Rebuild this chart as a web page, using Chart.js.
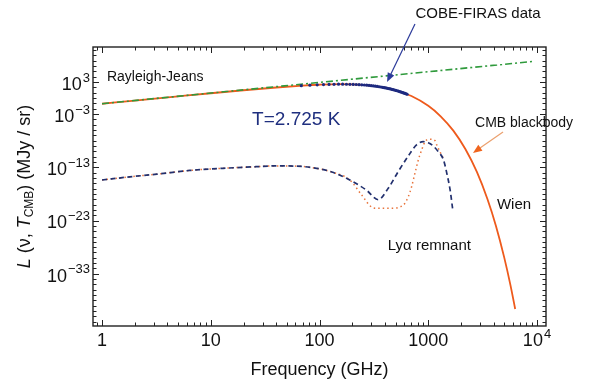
<!DOCTYPE html>
<html>
<head>
<meta charset="utf-8">
<script src="https://cdn.jsdelivr.net/npm/chart.js@4.4.1/dist/chart.umd.min.js"></script>
<style>
  html, body { margin: 0; padding: 0; background: #fff; }
</style>
</head>
<body>
<canvas id="chart" width="592" height="385"></canvas>
<script>
// frequency in GHz, intensity in MJy/sr
const bbFreq = [1, 2, 5, 10, 20, 40, 70, 100, 150, 200, 300, 400, 500, 700, 1000,
                1300, 1700, 2200, 2800, 3500, 4200, 5000, 5700, 6300];
const bbValue = [0.083, 0.33, 2.0, 7.7, 28, 92, 208, 306, 382, 359, 204, 83, 28, 2.3, 0.034,
                 3.7e-4, 7.4e-7, 2.4e-10, 1.3e-14, 1.1e-19, 8.7e-25, 1.1e-30, 7.6e-36, 2.5e-40];

const rjFreq = [1, 9500];
const rjValue = [0.084, 7.6e6];

const firasFreq = [68, 81.6, 95.2, 108.8, 122.4, 136, 149.6, 163.2, 176.8, 190.4, 204, 217.6,
                   231.2, 244.8, 258.4, 272, 285.6, 299.2, 312.8, 326.4, 340, 353.6, 367.2,
                   380.8, 394.4, 408, 421.6, 435.2, 448.8, 462.4, 476, 489.6, 503.2, 516.8,
                   530.4, 544, 557.6, 571.2, 584.8, 598.4, 612, 625.6, 639.2];
const firasValue = [201, 250, 293, 328, 354, 372, 382, 384, 379, 369, 355, 337,
                    317, 294, 272, 249, 226, 205, 184, 164, 146, 129, 114,
                    100, 87.4, 76.1, 66.1, 57.2, 49.4, 42.5, 36.5, 31.2, 26.7, 22.7,
                    19.4, 16.4, 13.9, 11.8, 9.96, 8.40, 7.07, 5.94, 4.99];

// Lyman-alpha remnant, dashed (navy) and dotted (orange)
const lyaFreq = [1, 1.8, 3.2, 6.4, 13, 26, 40, 62, 94, 130, 190, 270, 347, 430, 530,
                 680, 780, 900, 1000, 1110, 1240, 1380, 1480, 1590, 1680];
const lyaValue = [4e-16, 1.6e-15, 5e-15, 2.5e-14, 6.3e-14, 1.26e-13, 1.8e-13, 1.6e-13, 6.3e-14,
                  1.26e-14, 4e-16, 5e-18, 8e-20, 1.26e-17, 1.6e-14,
                  4e-11, 1.6e-9, 6.3e-9, 4e-9, 1e-9, 8e-11, 2.5e-12, 8e-15, 5e-18, 1e-21];
const lyaDotFreq = [1, 1.8, 3.2, 6.4, 13, 26, 40, 62, 94, 130, 190, 244, 302, 336, 445,
                    590, 656, 704, 755, 811, 870, 934, 1038, 1153, 1196, 1282, 1375];
const lyaDotValue = [4e-16, 1.6e-15, 5e-15, 2.5e-14, 6.3e-14, 1.26e-13, 1.8e-13, 1.6e-13, 6.3e-14,
                     1.26e-14, 4e-16, 6.3e-19, 3.2e-21, 2e-21, 2e-21,
                     8e-21, 3.2e-19, 2.5e-17, 8e-15, 2.5e-12, 1.8e-10, 6.3e-9, 1.8e-8, 1e-8, 1.6e-9, 8e-11, 5e-12];

const xTickValues = [1, 10, 100, 1000, 10000];
const xTickLabels = ['1', '10', '100', '1000', '10^4'];
const yTickValues = [1e3, 1e-3, 1e-13, 1e-23, 1e-33];
const yTickLabels = ['10^3', '10^\u22123', '10^\u221213', '10^\u221223', '10^\u221233'];
const minorSteps = [2, 3, 4, 5, 6, 7, 8, 9];

const FONT = '"Liberation Sans", Arial, sans-serif';
const NAVY = '#1d2a80';
const ORANGE = '#ee5a1c';

// text notes and arrows, anchored in data coordinates
const notes = [
  { text: 'Rayleigh-Jeans', x: 1.11, y: 8.7e3, size: 14, align: 'left', color: '#111' },
  { text: 'T=2.725 K', x: 24, y: 7.4e-5, size: 19, align: 'left', color: '#1f2f7f' },
  { text: 'COBE-FIRAS data', x: 2870, y: 5.8e15, size: 15, align: 'center', color: '#111' },
  { text: 'CMB blackbody', x: 7600, y: 2e-5, size: 14, align: 'center', color: '#111' },
  { text: 'Wien', x: 6150, y: 8.5e-21, size: 15, align: 'center', color: '#111' },
  { text: 'Ly\u03b1 remnant', x: 1024, y: 1.7e-28, size: 15, align: 'center', color: '#111' }
];
const arrows = [
  { from: [755, 7.8e13], to: [418, 1e3], line: '#2b3a9a', head: '#2b3a9a' },
  { from: [4870, 4.2e-7], to: [2580, 4.8e-11], line: '#eba06e', head: '#f0651e' }
];

const toXY = (xs, ys) => xs.map((x, i) => ({ x: x, y: ys[i] }));

function drawArrow(ctx, x0, y0, x1, y1, lineColor, headColor) {
  const ang = Math.atan2(y1 - y0, x1 - x0);
  const len = 9, half = 3.6;
  ctx.strokeStyle = lineColor;
  ctx.lineWidth = 1.2;
  ctx.beginPath();
  ctx.moveTo(x0, y0);
  ctx.lineTo(x1 - Math.cos(ang) * len * 0.8, y1 - Math.sin(ang) * len * 0.8);
  ctx.stroke();
  ctx.fillStyle = headColor;
  ctx.beginPath();
  ctx.moveTo(x1, y1);
  ctx.lineTo(x1 - Math.cos(ang) * len - Math.sin(ang) * half, y1 - Math.sin(ang) * len + Math.cos(ang) * half);
  ctx.lineTo(x1 - Math.cos(ang) * len + Math.sin(ang) * half, y1 - Math.sin(ang) * len - Math.cos(ang) * half);
  ctx.closePath();
  ctx.fill();
}

// "10^-13" style label: base at 18px, exponent at 13px raised
function drawPowerLabel(ctx, label, px, py, align) {
  const [base, exp] = label.split('^');
  ctx.font = '18px ' + FONT;
  const wb = ctx.measureText(base).width;
  ctx.font = '13px ' + FONT;
  const we = exp ? ctx.measureText(exp).width + 1 : 0;
  const w = wb + we;
  let x0 = align === 'right' ? px - w : px - w / 2;
  ctx.textAlign = 'left';
  ctx.textBaseline = 'middle';
  ctx.font = '18px ' + FONT;
  ctx.fillText(base, x0, py);
  if (exp) {
    ctx.font = '13px ' + FONT;
    ctx.fillText(exp, x0 + wb + 1, py - 7);
  }
}

const decor = {
  id: 'decor',
  afterDraw(chart) {
    const { ctx, chartArea: a, scales: { x, y } } = chart;
    ctx.save();

    // frame with inward ticks on all four sides
    ctx.strokeStyle = '#222';
    ctx.lineWidth = 1.4;
    ctx.strokeRect(a.left, a.top, a.right - a.left, a.bottom - a.top);
    ctx.lineWidth = 1;
    ctx.beginPath();
    for (let d = -1; d <= 4; d++) {
      for (const m of [1].concat(minorSteps)) {
        const v = m * Math.pow(10, d);
        if (v < x.min || v > x.max) continue;
        const px = Math.round(x.getPixelForValue(v)) + 0.5;
        const tl = m === 1 ? 6 : 3.5;
        ctx.moveTo(px, a.bottom); ctx.lineTo(px, a.bottom - tl);
        ctx.moveTo(px, a.top); ctx.lineTo(px, a.top + tl);
      }
    }
    for (let d = -43; d <= 9; d++) {
      const v = Math.pow(10, d);
      if (v < y.min || v > y.max) continue;
      const py = Math.round(y.getPixelForValue(v)) + 0.5;
      const tl = yTickValues.includes(v) ? 6 : 3.5;
      ctx.moveTo(a.left, py); ctx.lineTo(a.left + tl, py);
      ctx.moveTo(a.right, py); ctx.lineTo(a.right - tl, py);
    }
    ctx.stroke();

    // tick labels
    ctx.fillStyle = '#111';
    xTickValues.forEach((v, i) => drawPowerLabel(ctx, xTickLabels[i], x.getPixelForValue(v), a.bottom + 15, 'center'));
    yTickValues.forEach((v, i) => drawPowerLabel(ctx, yTickLabels[i], a.left - 3, y.getPixelForValue(v) + 3, 'right'));

    // annotations
    ctx.textBaseline = 'middle';
    for (const n of notes) {
      ctx.font = n.size + 'px ' + FONT;
      ctx.fillStyle = n.color;
      ctx.textAlign = n.align;
      ctx.fillText(n.text, x.getPixelForValue(n.x), y.getPixelForValue(n.y));
    }
    for (const ar of arrows) {
      drawArrow(ctx, x.getPixelForValue(ar.from[0]), y.getPixelForValue(ar.from[1]),
                x.getPixelForValue(ar.to[0]), y.getPixelForValue(ar.to[1]), ar.line, ar.head);
    }

    // y axis title with italics and subscript
    const parts = [
      { t: 'L', f: 'italic 18px ' + FONT, dy: 0 },
      { t: ' (\u03bd, ', f: '18px ' + FONT, dy: 0 },
      { t: 'T', f: 'italic 18px ' + FONT, dy: 0 },
      { t: 'CMB', f: '12px ' + FONT, dy: 5 },
      { t: ') (MJy / sr)', f: '18px ' + FONT, dy: 0 }
    ];
    let total = 0;
    for (const p of parts) { ctx.font = p.f; p.w = ctx.measureText(p.t).width; total += p.w; }
    ctx.translate(25, (a.top + a.bottom) / 2);
    ctx.rotate(-Math.PI / 2);
    ctx.fillStyle = '#111';
    ctx.textAlign = 'left';
    ctx.textBaseline = 'middle';
    let cx = -total / 2;
    for (const p of parts) {
      ctx.font = p.f;
      ctx.fillText(p.t, cx, p.dy);
      cx += p.w;
    }
    ctx.restore();
  }
};

const lineBase = { pointRadius: 0, fill: false, cubicInterpolationMode: 'monotone' };

new Chart(document.getElementById('chart').getContext('2d'), {
  type: 'line',
  data: {
    datasets: [
      { label: 'COBE-FIRAS data', data: toXY(firasFreq, firasValue), showLine: false,
        pointRadius: 1.6, pointBorderWidth: 0, pointBackgroundColor: NAVY, order: 0 },
      Object.assign({ label: 'Rayleigh-Jeans', data: toXY(rjFreq, rjValue), borderColor: '#2f9a3c',
        borderWidth: 1.6, borderDash: [7, 3, 2, 3], order: 1 }, lineBase),
      Object.assign({ label: 'Lya remnant', data: toXY(lyaFreq, lyaValue), borderColor: '#22306e',
        borderWidth: 1.7, borderDash: [5, 3.5], order: 2 }, lineBase),
      Object.assign({ label: 'Lya remnant (dotted)', data: toXY(lyaDotFreq, lyaDotValue), borderColor: '#e8743c',
        borderWidth: 1.5, borderDash: [1.5, 3], order: 3 }, lineBase),
      Object.assign({ label: 'CMB blackbody', data: toXY(bbFreq, bbValue), borderColor: ORANGE,
        borderWidth: 1.8, order: 4 }, lineBase)
    ]
  },
  options: {
    responsive: false,
    animation: false,
    layout: { padding: { top: 47, right: 46, left: 0, bottom: 0 } },
    plugins: { legend: { display: false }, tooltip: { enabled: false } },
    scales: {
      x: {
        type: 'logarithmic',
        min: 0.826,
        max: 12100,
        afterBuildTicks: s => { s.ticks = xTickValues.map(v => ({ value: v })); },
        afterFit: s => { s.height = 59; },
        ticks: { display: false },
        grid: { display: false },
        border: { display: false },
        title: {
          display: true,
          text: 'Frequency (GHz)',
          font: { family: FONT, size: 18 },
          color: '#111',
          padding: { top: 0, bottom: 4 }
        }
      },
      y: {
        type: 'logarithmic',
        min: 1.6e-43,
        max: 3.7e9,
        afterBuildTicks: s => { s.ticks = yTickValues.map(v => ({ value: v })); },
        afterFit: s => { s.width = 93; },
        ticks: { display: false },
        grid: { display: false },
        border: { display: false }
      }
    }
  },
  plugins: [decor]
});
</script>
</body>
</html>
